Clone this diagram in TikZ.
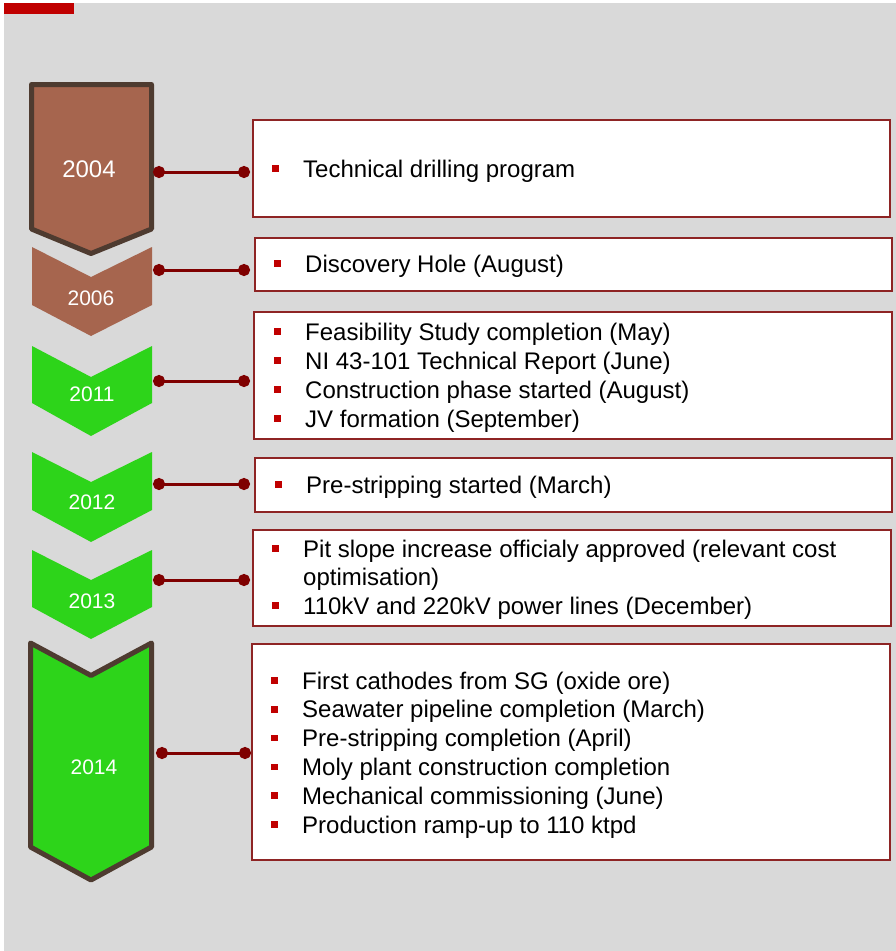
\documentclass[tikz,border=0pt]{standalone}
\usepackage{fontspec}
\setmainfont{Liberation Sans}
\usepackage{tikz}
\usetikzlibrary{arrows.meta}

\definecolor{panel}{HTML}{D9D9D9}
\definecolor{barred}{HTML}{C00000}
\definecolor{rust}{HTML}{A6654E}
\definecolor{umber}{HTML}{4E3B30}
\definecolor{leaf}{HTML}{2DD41A}
\definecolor{linkred}{HTML}{7F0000}
\definecolor{framered}{HTML}{8E2424}
\definecolor{bulletred}{HTML}{C00000}

\newcommand{\sqbullet}{\makebox[31pt][l]{\textcolor{bulletred}{\rule[5.3pt]{6.5pt}{6.5pt}}}}

\tikzset{
  evbox/.style={draw=framered, line width=1.5pt, fill=white, rectangle, inner sep=0pt, anchor=north west},
  evitem/.style={anchor=base west, inner sep=0pt, font=\fontsize{24pt}{29pt}\selectfont, execute at begin node=\sqbullet},
  evtext/.style={anchor=base west, inner sep=0pt, font=\fontsize{24pt}{29pt}\selectfont},
  yearlbl/.style={text=white, inner sep=0pt, font=\fontsize{21pt}{25pt}\selectfont},
  chevedge/.style={draw=umber, line width=5pt, line join=round},
  link/.style={draw=linkred, line width=3pt, {Circle[length=12pt, width=12pt]}-{Circle[length=12pt, width=12pt]}},
}

\begin{document}
\begin{tikzpicture}[x=1pt, y=-1pt]

        % Page and panel
        \useasboundingbox (0,0) rectangle (896,951);
        \fill[white] (0,0) rectangle (896,951);
        \fill[panel] (4,3) rectangle (896,951);
        \fill[barred] (4,3) rectangle (74,14);

        % Chevrons
        \draw[chevedge, fill=rust] (31.5,84.5) -- (151.5,84.5) -- (151.5,229) -- (91,253.5) -- (31.5,229) -- cycle;
        \fill[rust] (32,247) -- (91,277) -- (152,247) -- (152,305) -- (91,336) -- (32,305) -- cycle;
        \fill[leaf] (32,346) -- (91,377) -- (152,346) -- (152,403) -- (91,436) -- (32,403) -- cycle;
        \fill[leaf] (32,452) -- (91,482) -- (152,452) -- (152,510) -- (91,542) -- (32,510) -- cycle;
        \fill[leaf] (32,550) -- (91,580) -- (152,550) -- (152,607) -- (91,639) -- (32,607) -- cycle;
        \draw[chevedge, fill=leaf] (30.5,643) -- (91,675.5) -- (151.5,643) -- (151.5,847) -- (91,880) -- (30.5,847) -- cycle;

        % Years
        \node[yearlbl, font=\fontsize{24pt}{28pt}\selectfont] (y04) at (89,169) {2004};
        \node[yearlbl] (y06) at (91,298) {2006};
        \node[yearlbl] (y11) at (92,394) {2011};
        \node[yearlbl] (y12) at (92,502) {2012};
        \node[yearlbl] (y13) at (92,601) {2013};
        \node[yearlbl] (y14) at (94,767) {2014};

        % Boxes
        \node[evbox, minimum width=637pt, minimum height=97pt] (b04) at (252,119) {};
        \node[evbox, minimum width=637pt, minimum height=53pt] (b06) at (254,237) {};
        \node[evbox, minimum width=638pt, minimum height=127pt] (b11) at (253,311) {};
        \node[evbox, minimum width=637pt, minimum height=54pt] (b12) at (254,457) {};
        \node[evbox, minimum width=638pt, minimum height=96pt] (b13) at (252,529) {};
        \node[evbox, minimum width=638pt, minimum height=216pt] (b14) at (251,643) {};

        % Events
        \node[evitem] (t04a) at (272,177) {Technical drilling program};
        \node[evitem] (t06a) at (274,272) {Discovery Hole (August)};
        \node[evitem] (t11a) at (274,340) {Feasibility Study completion (May)};
        \node[evitem] (t11b) at (274,369) {NI 43-101 Technical Report (June)};
        \node[evitem] (t11c) at (274,398) {Construction phase started (August)};
        \node[evitem] (t11d) at (274,427) {JV formation (September)};
        \node[evitem] (t12a) at (275,493) {Pre-stripping started (March)};
        \node[evitem] (t13a) at (272,557) {Pit slope increase officialy approved (relevant cost};
        \node[evtext] (t13b) at (303,585.5) {optimisation)};
        \node[evitem] (t13c) at (272,614) {110kV and 220kV power lines (December)};
        \node[evitem] (t14a) at (271,689) {First cathodes from SG (oxide ore)};
        \node[evitem] (t14b) at (271,717.8) {Seawater pipeline completion (March)};
        \node[evitem] (t14c) at (271,746.6) {Pre-stripping completion (April)};
        \node[evitem] (t14d) at (271,775.4) {Moly plant construction completion};
        \node[evitem] (t14e) at (271,804.2) {Mechanical commissioning (June)};
        \node[evitem] (t14f) at (271,833) {Production ramp-up to 110 ktpd};

        % Links from chevrons to boxes
        \coordinate (e04) at (153,172);
        \coordinate (e06) at (153,270);
        \coordinate (e11) at (153,381);
        \coordinate (e12) at (153,484);
        \coordinate (e13) at (153,580);
        \coordinate (e14) at (156,753);
        \draw[link, shorten >=2pt] (e04) -- (e04 -| b04.west);
        \draw[link, shorten >=4pt] (e06) -- (e06 -| b06.west);
        \draw[link, shorten >=3pt] (e11) -- (e11 -| b11.west);
        \draw[link, shorten >=4pt] (e12) -- (e12 -| b12.west);
        \draw[link, shorten >=2pt] (e13) -- (e13 -| b13.west);
        \draw[link] (e14) -- (e14 -| b14.west);

\end{tikzpicture}
\end{document}
